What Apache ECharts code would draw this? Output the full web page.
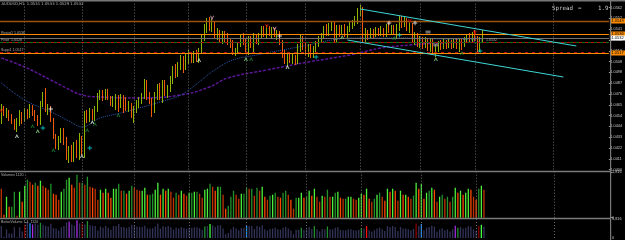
<!DOCTYPE html>
<html><head><meta charset="utf-8">
<script src="https://cdn.jsdelivr.net/npm/echarts@6/dist/echarts.min.js"></script>
<style>html,body{margin:0;padding:0;background:#000}#c{width:625px;height:240px}</style>
</head><body><div id="c"></div><script>
// ---- data (AUDUSD H1) ----
const opens = [1.0448,1.0462,1.0457,1.0459,1.0452,1.0449,1.0443,1.0447,1.0455,1.0450,
1.0458,1.0454,1.0462,1.0458,1.0452,1.0448,1.0466,1.0476,1.0459,1.0462,
1.0450,1.0433,1.0424,1.0430,1.0438,1.0430,1.0412,1.0420,1.0410,1.0424,
1.0415,1.0430,1.0420,1.0456,1.0452,1.0458,1.0454,1.0460,1.0474,1.0477,
1.0472,1.0478,1.0472,1.0467,1.0470,1.0473,1.0466,1.0472,1.0469,1.0461,
1.0465,1.0455,1.0460,1.0466,1.0470,1.0474,1.0488,1.0475,1.0470,1.0460,
1.0474,1.0482,1.0478,1.0486,1.0476,1.0482,1.0490,1.0498,1.0495,1.0503,
1.0510,1.0502,1.0508,1.0514,1.0510,1.0513,1.0510,1.0518,1.0532,1.0540,
1.0548,1.0542,1.0546,1.0534,1.0538,1.0532,1.0536,1.0531,1.0528,1.0525,
1.0517,1.0519,1.0526,1.0532,1.0528,1.0524,1.0530,1.0526,1.0532,1.0528,
1.0534,1.0540,1.0536,1.0541,1.0537,1.0540,1.0536,1.0537,1.0527,1.0515,
1.0508,1.0513,1.0510,1.0512,1.0508,1.0522,1.0532,1.0524,1.0518,1.0523,
1.0516,1.0520,1.0526,1.0530,1.0534,1.0540,1.0537,1.0543,1.0546,1.0530,
1.0542,1.0538,1.0541,1.0535,1.0540,1.0544,1.0547,1.0550,1.0558,1.0560,
1.0532,1.0536,1.0533,1.0538,1.0535,1.0539,1.0536,1.0540,1.0535,1.0543,
1.0540,1.0543,1.0538,1.0542,1.0551,1.0546,1.0550,1.0542,1.0545,1.0530,
1.0534,1.0526,1.0530,1.0525,1.0529,1.0523,1.0527,1.0517,1.0521,1.0526,
1.0523,1.0527,1.0524,1.0528,1.0525,1.0529,1.0524,1.0528,1.0525,1.0530,
1.0533,1.0530,1.0535,1.0532,1.0520,1.0530];
const closes = [1.0462,1.0457,1.0459,1.0452,1.0449,1.0443,1.0447,1.0455,1.0450,1.0458,
1.0454,1.0462,1.0458,1.0452,1.0448,1.0466,1.0474,1.0459,1.0462,1.0450,
1.0433,1.0424,1.0430,1.0438,1.0430,1.0412,1.0420,1.0410,1.0424,1.0415,
1.0430,1.0420,1.0456,1.0452,1.0458,1.0454,1.0460,1.0474,1.0477,1.0472,
1.0478,1.0472,1.0467,1.0470,1.0473,1.0466,1.0472,1.0469,1.0461,1.0465,
1.0455,1.0460,1.0466,1.0470,1.0474,1.0488,1.0475,1.0470,1.0460,1.0474,
1.0482,1.0478,1.0486,1.0476,1.0482,1.0490,1.0498,1.0495,1.0503,1.0510,
1.0502,1.0508,1.0514,1.0510,1.0513,1.0510,1.0518,1.0532,1.0540,1.0548,
1.0542,1.0546,1.0534,1.0538,1.0532,1.0536,1.0531,1.0528,1.0525,1.0517,
1.0519,1.0526,1.0532,1.0528,1.0524,1.0530,1.0526,1.0532,1.0528,1.0534,
1.0540,1.0536,1.0541,1.0537,1.0540,1.0536,1.0537,1.0527,1.0515,1.0508,
1.0513,1.0510,1.0512,1.0508,1.0522,1.0532,1.0524,1.0518,1.0523,1.0516,
1.0520,1.0526,1.0530,1.0534,1.0540,1.0537,1.0543,1.0546,1.0530,1.0542,
1.0538,1.0541,1.0535,1.0540,1.0544,1.0547,1.0550,1.0558,1.0560,1.0532,
1.0536,1.0533,1.0538,1.0535,1.0539,1.0536,1.0540,1.0535,1.0543,1.0540,
1.0543,1.0538,1.0542,1.0551,1.0546,1.0550,1.0542,1.0545,1.0530,1.0534,
1.0526,1.0530,1.0525,1.0529,1.0523,1.0527,1.0517,1.0521,1.0526,1.0523,
1.0527,1.0524,1.0528,1.0525,1.0529,1.0524,1.0528,1.0525,1.0530,1.0533,
1.0530,1.0535,1.0532,1.0520,1.0530,1.0532];
const highs = [1.0466,1.0464,1.0462,1.0460,1.0456,1.0451,1.0452,1.0460,1.0458,1.0462,
1.0461,1.0466,1.0465,1.0460,1.0455,1.0469,1.0478,1.0482,1.0466,1.0464,
1.0452,1.0436,1.0434,1.0442,1.0442,1.0433,1.0424,1.0425,1.0428,1.0430,
1.0437,1.0434,1.0459,1.0460,1.0462,1.0461,1.0464,1.0477,1.0480,1.0480,
1.0481,1.0481,1.0474,1.0474,1.0476,1.0475,1.0476,1.0475,1.0473,1.0469,
1.0467,1.0464,1.0470,1.0473,1.0477,1.0491,1.0490,1.0478,1.0472,1.0478,
1.0486,1.0487,1.0490,1.0490,1.0485,1.0494,1.0504,1.0506,1.0508,1.0515,
1.0514,1.0517,1.0520,1.0518,1.0519,1.0520,1.0522,1.0535,1.0546,1.0552,
1.0553,1.0551,1.0548,1.0542,1.0540,1.0539,1.0539,1.0537,1.0532,1.0530,
1.0522,1.0528,1.0536,1.0537,1.0532,1.0534,1.0534,1.0537,1.0535,1.0537,
1.0544,1.0544,1.0545,1.0544,1.0543,1.0542,1.0540,1.0539,1.0530,1.0520,
1.0517,1.0517,1.0516,1.0515,1.0526,1.0535,1.0534,1.0528,1.0526,1.0526,
1.0524,1.0529,1.0534,1.0537,1.0544,1.0546,1.0547,1.0549,1.0548,1.0545,
1.0545,1.0545,1.0546,1.0544,1.0548,1.0550,1.0554,1.0562,1.0565,1.0563,
1.0542,1.0540,1.0542,1.0541,1.0543,1.0542,1.0544,1.0542,1.0546,1.0547,
1.0545,1.0545,1.0546,1.0554,1.0554,1.0553,1.0552,1.0548,1.0547,1.0538,
1.0537,1.0534,1.0533,1.0533,1.0532,1.0531,1.0532,1.0526,1.0529,1.0530,
1.0531,1.0530,1.0531,1.0530,1.0532,1.0531,1.0532,1.0531,1.0533,1.0536,
1.0537,1.0538,1.0540,1.0534,1.0533,1.0540];
const lows = [1.0446,1.0454,1.0452,1.0449,1.0446,1.0440,1.0438,1.0444,1.0446,1.0448,
1.0451,1.0452,1.0454,1.0449,1.0444,1.0445,1.0463,1.0458,1.0455,1.0448,
1.0431,1.0421,1.0420,1.0427,1.0425,1.0410,1.0407,1.0408,1.0408,1.0412,
1.0410,1.0415,1.0412,1.0447,1.0448,1.0450,1.0449,1.0458,1.0470,1.0469,
1.0470,1.0470,1.0464,1.0463,1.0460,1.0458,1.0462,1.0457,1.0459,1.0458,
1.0452,1.0447,1.0457,1.0462,1.0466,1.0471,1.0470,1.0466,1.0453,1.0457,
1.0470,1.0470,1.0467,1.0474,1.0472,1.0478,1.0486,1.0492,1.0493,1.0500,
1.0497,1.0500,1.0506,1.0507,1.0507,1.0508,1.0507,1.0516,1.0529,1.0537,
1.0539,1.0538,1.0532,1.0530,1.0528,1.0526,1.0528,1.0525,1.0522,1.0515,
1.0514,1.0516,1.0523,1.0525,1.0518,1.0515,1.0522,1.0516,1.0526,1.0525,
1.0531,1.0533,1.0532,1.0534,1.0532,1.0533,1.0530,1.0525,1.0512,1.0506,
1.0504,1.0507,1.0506,1.0505,1.0506,1.0518,1.0520,1.0514,1.0513,1.0512,
1.0512,1.0517,1.0523,1.0527,1.0531,1.0534,1.0534,1.0539,1.0527,1.0527,
1.0533,1.0535,1.0533,1.0532,1.0538,1.0541,1.0544,1.0546,1.0554,1.0528,
1.0527,1.0530,1.0531,1.0532,1.0533,1.0534,1.0534,1.0533,1.0533,1.0537,
1.0536,1.0535,1.0532,1.0539,1.0542,1.0543,1.0539,1.0537,1.0527,1.0525,
1.0523,1.0522,1.0521,1.0522,1.0519,1.0518,1.0515,1.0513,1.0518,1.0520,
1.0521,1.0521,1.0522,1.0521,1.0522,1.0521,1.0518,1.0520,1.0523,1.0527,
1.0527,1.0528,1.0529,1.0517,1.0518,1.0528];
const volumes = [1160,120,840,440,440,1040,80,1040,640,1280,
1520,1440,1320,1400,1280,1480,1280,1200,1120,1360,
960,920,720,1040,1160,1520,1600,1320,1200,1720,
1400,1400,1320,1640,1240,1200,1160,720,1120,1000,
1160,1000,800,1160,1160,1360,1080,1080,960,1080,
1280,1200,1120,1080,1080,1200,920,920,960,1120,
1400,920,1160,1080,1160,1040,800,1000,920,1080,
960,880,1000,1000,1040,1040,960,800,1120,1160,
1360,1240,1080,1240,1240,920,360,480,840,1080,
920,760,960,960,1200,1160,1160,880,1200,1080,
1240,840,720,880,920,1000,840,800,1000,1080,
920,720,360,800,800,1000,800,840,1080,880,
1160,840,640,880,840,1120,840,840,1000,1040,
800,760,760,840,840,760,720,800,960,920,
1160,760,640,760,920,1000,840,680,1160,1040,
1160,1080,680,1080,920,920,840,760,880,1400,
1160,1360,760,1000,1080,1200,1120,640,840,920,
760,840,640,840,1200,1000,1080,920,1000,1160,
1120,840,720,1160,1280,1120];
const volMax = 1816;
// moving averages: [bar index, value]
const maFast = [[0,1.0487],[9,1.0470],[20,1.0457],[26,1.0449],[31,1.0443],[38,1.0452],[46,1.0457],[53,1.0462],[61,1.0468],[69,1.0475],[76,1.0488],[82,1.0500],[89,1.0510],[98,1.0515],[108,1.0520],[118,1.0525],[127,1.0530],[136,1.0532],[145,1.0532],[153,1.0532],[168,1.0531],[185,1.0530]];
const maSlow = [[0,1.0512],[9,1.0503],[19,1.0490],[25,1.0482],[31,1.0475],[38,1.0473],[53,1.0472],[69,1.0475],[80,1.0483],[87,1.0492],[102,1.0500],[118,1.0508],[134,1.0515],[146,1.0522],[157,1.0525],[168,1.0527],[185,1.0528]];
// levels
const levelR2 = 1.0549, levelR1 = 1.0536, levelPivot = 1.0528, levelS1 = 1.0517, levelS1b = 1.0518, bid = 1.0532;
const channelUpper = [[138,1.0561],[221,1.0524]];
const channelLower = [[133,1.0530],[216,1.0493]];
const sessionBreaks = [9,31,51,72,94,117,138,161,182,212];
// signal markers [bar index, price]
const downPink = [[81,1.0552],[105,1.0541]];
const downRed = [[0,1.0459],[102,1.0544],[157,1.0549],[182,1.0537]];
const upWhite = [[6,1.0434],[31,1.0414],[35,1.0448],[76,1.0510],[110,1.0503]];
const upLight = [[14,1.0439],[94,1.0511],[131,1.0533],[167,1.0511]];
const upDark = [[12,1.0444],[20,1.0420],[33,1.0440],[36,1.0446],[45,1.0455],[96,1.0511],[151,1.0532],[177,1.0517]];
const crossCyan = [[16,1.0442],[34,1.0422],[121,1.0513],[153,1.0535],[184,1.0519]];
const crossWhite = [[19,1.0461],[107,1.0534],[149,1.0547],[159,1.0547]];
const labelBoxes = [[164,1.0538],[167,1.0525]];
// volume classes for lower panel
const climaxBars = [9,31,159,183];
const lowVolBars = [11,94,161];
const churnBars = [15,33,78,115,120,125,138,175];
const climaxChurnBars = [12,26,29,174];
const strongChurnBars = [80,184];
const climaxUpBars = [140];

const NCAT = 234;
const cats = Array.from({length: NCAT}, (_, i) => String(i));

const chart = echarts.init(document.getElementById('c'), null, {renderer: 'canvas'});
const W = 610.5;
const gridR = 625 - W;
const pathDown = 'path://M0,0L5,10L10,0L7.5,0L5,5L2.5,0Z';
const pathUp = 'path://M0,10L5,0L10,10L7.5,10L5,5L2.5,10Z';
const pathCross = 'path://M4,0H6V4H10V6H6V10H4V6H0V4H4Z';
const vbreak = {silent: true, symbol: 'none', label: {show: false},
  lineStyle: {color: '#6a6a6a', type: [1, 2], width: 1},
  data: sessionBreaks.map(i => ({xAxis: i}))};
const boxLabel = (bg, fg) => ({show: true, position: 'end', distance: 1, fontSize: 4, color: fg,
  backgroundColor: bg, padding: [0.5, 1.5], formatter: p => Number(p.value).toFixed(4)});

const option = {
  backgroundColor: '#000', animation: false,
  grid: [
    {left: 0, right: gridR, top: 2, height: 167.6},
    {left: 0, right: gridR, top: 172.3, height: 45.4},
    {left: 0, right: gridR, top: 219.3, height: 20.7}
  ],
  xAxis: [0, 1, 2].map(g => ({type: 'category', gridIndex: g, data: cats, show: false})),
  yAxis: [
    {gridIndex: 0, position: 'right', min: 1.04004, max: 1.0568, interval: 0.00108, scale: true,
     splitLine: {show: false}, axisLine: {show: false},
     axisTick: {show: true, length: 2, lineStyle: {color: '#9a9a9a'}},
     axisLabel: {fontSize: 3.8, color: '#c8c8c8', margin: 1.5, showMaxLabel: false, formatter: v => v.toFixed(4)}},
    {gridIndex: 1, position: 'right', min: 0, max: volMax, interval: volMax,
     splitLine: {show: false}, axisLine: {show: false},
     axisTick: {show: true, length: 2, lineStyle: {color: '#9a9a9a'}},
     axisLabel: {fontSize: 3.8, color: '#c8c8c8', margin: 1.5}},
    {gridIndex: 2, position: 'right', min: 0, max: volMax, interval: volMax,
     splitLine: {show: false}, axisLine: {show: false},
     axisTick: {show: false},
     axisLabel: {fontSize: 3.8, color: '#c8c8c8', margin: 1.5}}
  ],
  series: [
    {type: 'line', xAxisIndex: 0, yAxisIndex: 0, data: maSlow, smooth: 0.4, showSymbol: false,
     lineStyle: {color: '#5a1696', width: 1.5, type: [3, 1.5]}, z: 1},
    {type: 'line', xAxisIndex: 0, yAxisIndex: 0, data: maFast, smooth: 0.4, showSymbol: false,
     lineStyle: {color: '#2a5aac', width: 1, type: [1, 1]}, z: 1},
    {type: 'candlestick', xAxisIndex: 0, yAxisIndex: 0, barWidth: 1.2, z: 2,
     data: opens.map((o, i) => [o, closes[i], lows[i], highs[i]]),
     itemStyle: {color: '#5ec800', color0: '#ff5000', borderColor: '#8cb400', borderColor0: '#f05a0a', borderWidth: 1},
     markLine: vbreak},
    {type: 'line', xAxisIndex: 0, yAxisIndex: 0, data: [], z: 5,
     markLine: {silent: true, symbol: 'none', precision: 4,
      data: [
        {yAxis: levelR2, lineStyle: {color: '#a0520c', width: 1.4, type: 'solid'}, label: boxLabel('#ff8c00', '#000')},
        {yAxis: levelR1, lineStyle: {color: '#ff8c00', width: 1, type: 'solid'}, label: boxLabel('#ff8c00', '#000')},
        {yAxis: bid, lineStyle: {color: '#6e6e6e', width: 1, type: 'solid'}, label: boxLabel('#ffffff', '#000')},
        {yAxis: levelPivot, lineStyle: {color: '#0c6e0c', width: 1, type: [3, 3]}, label: {show: false}},
        {yAxis: levelPivot, lineStyle: {color: '#b01010', width: 1, type: [3, 3], dashOffset: 3}, label: {show: false}},
        {yAxis: levelS1b, lineStyle: {color: '#b01010', width: 1, type: [3, 4]}, label: {show: false}},
        {yAxis: levelS1, lineStyle: {color: '#ff8c00', width: 1, type: 'solid'}, label: boxLabel('#ff8c00', '#000')},
        [{coord: channelUpper[0]}, {coord: channelUpper[1]}],
        [{coord: channelLower[0]}, {coord: channelLower[1]}]
      ].map(d => Array.isArray(d) ? [Object.assign({lineStyle: {color: '#3fd6d6', width: 1, type: 'solid'}, label: {show: false}}, d[0]), d[1]] : d)}},
    {type: 'scatter', xAxisIndex: 0, yAxisIndex: 0, data: downPink, symbol: pathDown, symbolSize: [4, 4.5], itemStyle: {color: '#f0b4c8'}, z: 6},
    {type: 'scatter', xAxisIndex: 0, yAxisIndex: 0, data: downRed, symbol: pathDown, symbolSize: [4, 4.5], itemStyle: {color: '#d80000'}, z: 6},
    {type: 'scatter', xAxisIndex: 0, yAxisIndex: 0, data: upWhite, symbol: pathUp, symbolSize: [4, 4], itemStyle: {color: '#e6ffe6'}, z: 6},
    {type: 'scatter', xAxisIndex: 0, yAxisIndex: 0, data: upLight, symbol: pathUp, symbolSize: [4, 4], itemStyle: {color: '#8ee68e'}, z: 6},
    {type: 'scatter', xAxisIndex: 0, yAxisIndex: 0, data: upDark, symbol: pathUp, symbolSize: [4, 4], itemStyle: {color: '#1e8a3a'}, z: 6},
    {type: 'scatter', xAxisIndex: 0, yAxisIndex: 0, data: crossCyan, symbol: pathCross, symbolSize: 4.5, itemStyle: {color: '#00e0e0'}, z: 6},
    {type: 'scatter', xAxisIndex: 0, yAxisIndex: 0, data: crossWhite, symbol: pathCross, symbolSize: 4.5, itemStyle: {color: '#ffffff'}, z: 6},
    {type: 'scatter', xAxisIndex: 0, yAxisIndex: 0, data: labelBoxes, symbol: 'rect', symbolSize: [5, 3], itemStyle: {color: '#8a8a8a'}, z: 6},
    {type: 'bar', xAxisIndex: 1, yAxisIndex: 1, data: volumes, barWidth: 1.3,
     itemStyle: {color: p => {
       const i = p.dataIndex; const up = i > 0 && volumes[i] >= volumes[i - 1];
       const bull = closes[i] > opens[i];
       return up ? (bull ? '#4cf03a' : '#22922a') : (bull ? '#c03400' : '#ff4800');
     }},
     markLine: vbreak},
    {type: 'bar', xAxisIndex: 2, yAxisIndex: 2, data: volumes, barWidth: 1.3,
     itemStyle: {color: p => {
       const i = p.dataIndex;
       if (climaxBars.includes(i)) return '#8b0000';
       if (lowVolBars.includes(i)) return '#1e8fff';
       if (churnBars.includes(i)) return '#1f8f2f';
       if (climaxChurnBars.includes(i)) return '#a030e0';
       if (strongChurnBars.includes(i)) return '#40ff40';
       if (climaxUpBars.includes(i)) return '#ff1010';
       return '#33335a';
     }},
     markLine: vbreak}
  ],
  graphic: [
    {type: 'rect', shape: {x: 0, y: 0, width: 625, height: 1.4}, style: {fill: '#777'}, z: 10},
    {type: 'rect', shape: {x: 0, y: 170.7, width: 611, height: 1.6}, style: {fill: '#7a7a7a'}, z: 10},
    {type: 'rect', shape: {x: 0, y: 217.7, width: 611, height: 1.6}, style: {fill: '#7a7a7a'}, z: 10},
    {type: 'rect', shape: {x: 610, y: 0, width: 1.2, height: 240}, style: {fill: '#7a7a7a'}, z: 10},
    {type: 'text', x: 1.5, y: 4.2, z: 10, style: {text: 'AUDUSD,H1  1.0531 1.0533 1.0529 1.0532', fontSize: 3.8, fill: '#b8b8b8', verticalAlign: 'middle', fontFamily: 'DejaVu Sans'}},
    {type: 'text', x: 552, y: 8, z: 10, style: {text: 'Spread', fontSize: 5.8, fill: '#c8c8c8', verticalAlign: 'middle', fontFamily: 'DejaVu Sans Mono'}},
    {type: 'text', x: 578, y: 8, z: 10, style: {text: '=', fontSize: 5.8, fill: '#c8c8c8', verticalAlign: 'middle', fontFamily: 'DejaVu Sans Mono'}},
    {type: 'text', x: 598, y: 8, z: 10, style: {text: '1.9', fontSize: 5.8, fill: '#c8c8c8', verticalAlign: 'middle', fontFamily: 'DejaVu Sans Mono'}},
    {type: 'text', x: 1, y: 32.6, z: 10, style: {text: 'Resist1 1.0536', fontSize: 3.6, fill: '#b0b0b0', verticalAlign: 'middle'}},
    {type: 'text', x: 1, y: 39.6, z: 10, style: {text: 'Pivot  1.0528', fontSize: 3.6, fill: '#b0b0b0', verticalAlign: 'middle'}},
    {type: 'text', x: 1, y: 50.3, z: 10, style: {text: 'Supp1 1.0517', fontSize: 3.6, fill: '#b0b0b0', verticalAlign: 'middle'}},
    {type: 'text', x: 486, y: 40, z: 10, style: {text: '1.0532', fontSize: 3.6, fill: '#a8a8a8', verticalAlign: 'middle'}},
    {type: 'text', x: 1, y: 175.2, z: 10, style: {text: 'Volumes 1120', fontSize: 3.6, fill: '#b0b0b0', verticalAlign: 'middle'}},
    {type: 'text', x: 1, y: 222.3, z: 10, style: {text: 'BetterVolume 1.4  1120', fontSize: 3.6, fill: '#b0b0b0', verticalAlign: 'middle'}}
  ]
};
chart.setOption(option);
</script></body></html>
